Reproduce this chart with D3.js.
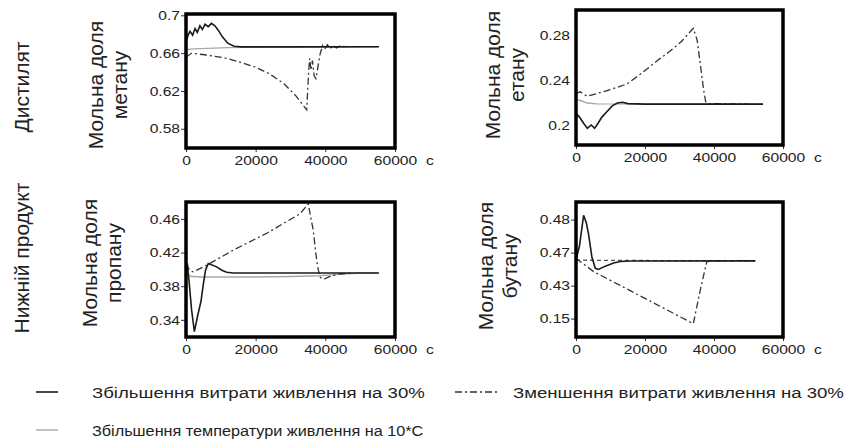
<!DOCTYPE html>
<html><head><meta charset="utf-8">
<script src="https://cdn.jsdelivr.net/npm/d3@7"></script>
<style>
body{margin:0;background:#fff}
text{font-family:"Liberation Sans",Arial,sans-serif;fill:#222}
</style>
</head><body>
<svg id="chart" width="858" height="444"></svg>
<script>
// ---------- data ----------
const timeTicks = [0, 20000, 40000, 60000];
const timeUnit = "с";

const rowLabels = ["Дистилят", "Нижній продукт"];
const seriesNames = [
  "Збільшення витрати живлення на 30%",
  "Зменшення витрати живлення на 30%",
  "Збільшення температури живлення на 10*С"
];

// Methane (distillate)
const methaneTicks = [0.58, 0.62, 0.66, 0.7];
const methaneIncFlow = [[0,0.672],[600,0.679],[1150,0.683],[1900,0.679],[2600,0.686],[3250,0.682],[4000,0.689],[4700,0.685],[5450,0.6905],[6400,0.688],[7300,0.6915],[8300,0.689],[9300,0.684],[10500,0.677],[12000,0.6705],[13800,0.6672],[16000,0.6666],[30000,0.6666],[55400,0.6668]];
const methaneDecFlow = [[0,0.656],[1600,0.6598],[6000,0.658],[11700,0.6545],[16000,0.650],[20000,0.645],[24000,0.638],[28000,0.628],[31500,0.615],[34650,0.600],[35200,0.640],[35500,0.6545],[35900,0.642],[36300,0.652],[36800,0.636],[37300,0.633],[37900,0.646],[38500,0.659],[39200,0.668],[39800,0.664],[40600,0.669],[41400,0.665],[42300,0.668],[43200,0.6655],[44200,0.6675],[46000,0.6668]];
const methaneIncTemp = [[0,0.6635],[2000,0.6645],[6000,0.665],[12000,0.6658],[20000,0.6665],[55000,0.6668]];

// Ethane (distillate)
const ethaneTicks = [0.2, 0.24, 0.28];
const ethaneIncFlow = [[0,0.2105],[1000,0.207],[2200,0.2015],[3300,0.197],[4400,0.2],[5400,0.197],[6400,0.2015],[7500,0.207],[9000,0.212],[10500,0.217],[12000,0.2195],[13500,0.2202],[15000,0.219],[20000,0.2185],[54200,0.2185]];
const ethaneDecFlow = [[0,0.228],[1200,0.2295],[3200,0.2255],[6100,0.228],[10500,0.232],[14800,0.2365],[18600,0.245],[23500,0.257],[27000,0.265],[30500,0.274],[34000,0.286],[35100,0.2756],[36000,0.2548],[37000,0.231],[37600,0.2205],[38500,0.219],[50000,0.2185]];
const ethaneIncTemp = [[0,0.2228],[1500,0.2215],[3200,0.2195],[6000,0.2188],[54200,0.2185]];

// Propane (bottom product)
const propaneTicks = [0.34, 0.38, 0.42, 0.46];
const propaneIncFlow = [[0,0.405],[400,0.406],[900,0.385],[1600,0.352],[2400,0.326],[3400,0.346],[4300,0.362],[5000,0.383],[5600,0.399],[6400,0.407],[8800,0.403],[10300,0.399],[11700,0.3965],[13600,0.3957],[55400,0.3957]];
const propaneDecFlow = [[0,0.399],[500,0.403],[1000,0.399],[2000,0.397],[6000,0.405],[13600,0.423],[23200,0.443],[32700,0.466],[35100,0.4777],[36500,0.447],[37500,0.411],[38000,0.399],[38500,0.391],[39000,0.3885],[40000,0.389],[41000,0.391],[42500,0.393],[44000,0.3945],[48000,0.3957]];
const propaneIncTemp = [[0,0.395],[1500,0.3915],[5000,0.391],[20000,0.391],[30000,0.3915],[38000,0.3925],[44000,0.394],[50000,0.3957],[55000,0.3957]];

// Butane (bottom product) - tick labels as printed on the original axis
const butaneTicks = [0.15, 0.43, 0.47, 0.48];
const butaneIncFlow = [[0,0.461],[1000,0.472],[2200,0.4813],[3000,0.479],[3650,0.4755],[4600,0.4647],[5600,0.451],[6500,0.4496],[8500,0.4536],[10900,0.4575],[12800,0.4592],[16000,0.4598],[52000,0.46]];
const butaneDecFlow = [[0,0.463],[5100,0.447],[12900,0.43],[34000,0.107],[34300,0.15],[36300,0.43],[37900,0.4587],[39000,0.46],[42000,0.46]];
const butaneIncTemp = [[0,0.4608],[20000,0.4604],[52000,0.46]];

// ---------- layout ----------
const svg = d3.select("#chart");
const FS_TICK = 13, SX = 1.2;

const panels = [
  {title:["Мольна доля","метану"], box:[186,395,14,148], yDomain:[0.5596,0.7014], ticks:methaneTicks,
   tickSize:5, titleBase:103, titleY:85, inc:methaneIncFlow, dec:methaneDecFlow, temp:methaneIncTemp, tempDash:null},
  {title:["Мольна доля","етану"], box:[576,783,10,145], yDomain:[0.1822,0.3022], ticks:ethaneTicks,
   tickSize:0, titleBase:500, titleY:75, inc:ethaneIncFlow, dec:ethaneDecFlow, temp:ethaneIncTemp, tempDash:null},
  {title:["Мольна доля","пропану"], box:[186,395,202,337], yDomain:[0.3196,0.4801], ticks:propaneTicks,
   tickSize:5, titleBase:97, titleY:263, inc:propaneIncFlow, dec:propaneDecFlow, temp:propaneIncTemp, tempDash:null},
  {title:["Мольна доля","бутану"], box:[576,783,202,337], yDomain:null, ticks:butaneTicks,
   tickSize:5, titleBase:493, titleY:266, inc:butaneIncFlow, dec:butaneDecFlow, temp:butaneIncTemp, tempDash:"4,3"}
];

panels.forEach((p, i) => {
  const [x0, x1, y0, y1] = p.box;
  const x = d3.scaleLinear().domain([timeTicks[0], timeTicks[timeTicks.length-1]]).range([x0, x1]);
  let y;
  if (p.yDomain) {
    y = d3.scaleLinear().domain(p.yDomain).range([y1, y0]);
  } else {
    // evenly spaced printed ticks (piecewise axis)
    const step = (y1 - y0 - 36) / (p.ticks.length - 1);
    y = d3.scaleLinear().domain(p.ticks).range(p.ticks.map((d, k) => y1 - 18.4 - k * step));
  }

  const clipId = "clip" + i;
  svg.append("clipPath").attr("id", clipId).append("rect")
    .attr("x", x0).attr("y", y0).attr("width", x1 - x0).attr("height", y1 - y0);

  const g = svg.append("g");
  const line = d3.line().x(d => x(d[0])).y(d => y(d[1]));
  const plot = g.append("g").attr("clip-path", `url(#${clipId})`);

  plot.append("path").datum(p.temp).attr("d", line).attr("fill", "none")
    .attr("stroke", p.tempDash ? "#555" : "#a8a8a8").attr("stroke-width", p.tempDash ? 1.3 : 1.4)
    .attr("stroke-dasharray", p.tempDash);
  plot.append("path").datum(p.dec).attr("d", line).attr("fill", "none")
    .attr("stroke", "#333").attr("stroke-width", 1.3).attr("stroke-dasharray", "7,3,2,3");
  plot.append("path").datum(p.inc).attr("d", line).attr("fill", "none")
    .attr("stroke", "#1a1a1a").attr("stroke-width", 1.6);

  // y axis
  const ya = g.append("g").attr("transform", `translate(${x0},0)`)
    .call(d3.axisLeft(y).tickValues(p.ticks).tickSize(p.tickSize).tickPadding(p.tickSize ? 1 : 6).tickFormat(d => String(d)));
  ya.select(".domain").remove();
  ya.selectAll(".tick line").attr("stroke", "#333").attr("stroke-width", 1);
  ya.selectAll(".tick text").attr("font-size", FS_TICK).attr("fill", "#222")
    .attr("font-family", "Liberation Sans, Arial, sans-serif")
    .attr("x", function(){ return +d3.select(this).attr("x") / SX; })
    .attr("transform", `scale(${SX},1)`);

  // x axis
  const xa = g.append("g").attr("transform", `translate(0,${y1})`)
    .call(d3.axisBottom(x).tickValues(timeTicks).tickSize(4).tickPadding(4).tickFormat(d => String(d)));
  xa.select(".domain").remove();
  xa.selectAll(".tick line").attr("stroke", "#333");
  xa.selectAll(".tick text").attr("font-size", FS_TICK).attr("fill", "#222")
    .attr("font-family", "Liberation Sans, Arial, sans-serif")
    .attr("transform", `scale(${SX},1)`);
  g.append("text").attr("font-size", FS_TICK)
    .attr("transform", `translate(${x1 + 31},${y1 + 17}) scale(${SX},1)`)
    .text(timeUnit);

  // frame
  g.append("rect").attr("x", x0).attr("y", y0).attr("width", x1 - x0).attr("height", y1 - y0)
    .attr("fill", "none").attr("stroke", "#000").attr("stroke-width", 3.5);

  // y title (two rotated lines)
  const t = g.append("text").attr("font-size", 21).attr("text-anchor", "middle")
    .attr("transform", `translate(${p.titleBase},${p.titleY}) rotate(-90)`);
  p.title.forEach((s, k) => t.append("tspan").attr("x", 0).attr("dy", k === 0 ? 0 : 24).text(s));
});

// row labels
const rowY = [87, 258];
rowLabels.forEach((s, k) => {
  svg.append("text").attr("font-size", 21).attr("text-anchor", "middle")
    .attr("transform", `translate(28.5,${rowY[k]}) rotate(-90)`).text(s);
});

// legend
const legendItems = [
  {name: seriesNames[0], lx: 36, tx: 92, y: 392, stroke: "#1a1a1a", dash: null, w: 1.6, fs: 15.5, sx: 1.2},
  {name: seriesNames[1], lx: 455, tx: 513, y: 392, stroke: "#333", dash: "7,3,2,3", w: 1.3, fs: 15.5, sx: 1.2},
  {name: seriesNames[2], lx: 36, tx: 92, y: 430, stroke: "#a8a8a8", dash: null, w: 1.4, fs: 14.5, sx: 1.12}
];
legendItems.forEach(it => {
  svg.append("line").attr("x1", it.lx).attr("x2", it.lx + (it.dash ? 42 : 22))
    .attr("y1", it.y).attr("y2", it.y).attr("stroke", it.stroke)
    .attr("stroke-width", it.w).attr("stroke-dasharray", it.dash);
  svg.append("text").attr("font-size", it.fs)
    .attr("transform", `translate(${it.tx},${it.y + 5.5}) scale(${it.sx},1)`).text(it.name);
});
</script>
</body></html>
